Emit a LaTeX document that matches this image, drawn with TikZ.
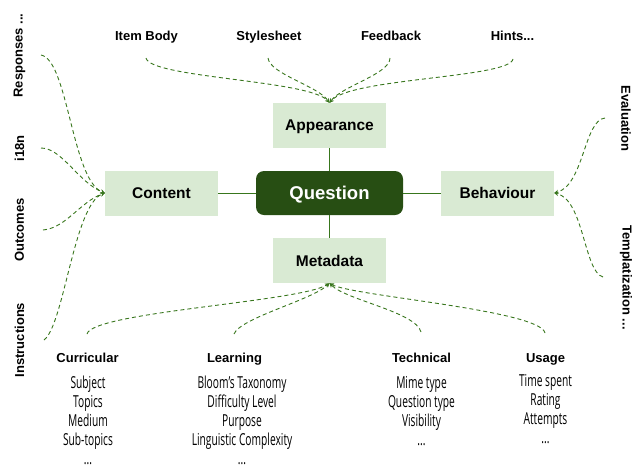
\documentclass[tikz,border=0pt]{standalone}
\usepackage{fontspec}
\setmainfont{Liberation Sans}
\newfontfamily\narrowfont[FakeStretch=0.62]{Open Sans}
\usetikzlibrary{shapes,arrows}
\definecolor{qgreen}{HTML}{274E13}
\definecolor{boxgreen}{HTML}{D9EAD3}
\definecolor{linegreen}{HTML}{38761D}

\begin{document}
\begin{tikzpicture}[x=1pt,y=-1pt]

\tikzstyle{green-b} = [fill=boxgreen, inner sep=0, text depth=0, minimum width=113, minimum height=45,
font=\fontsize{15.5}{18}\selectfont\bfseries]
\tikzstyle{dark-b} = [fill=qgreen, text=white, rounded corners=8, inner sep=0, text depth=0,
minimum width=147, minimum height=44, font=\fontsize{18.5}{22}\selectfont\bfseries]
\tikzstyle{label} = [anchor=base, inner sep=0, font=\fontsize{13}{15}\selectfont\bfseries]
\tikzstyle{items} = [anchor=base, inner sep=0, font=\narrowfont\fontsize{16.5}{19}\selectfont]
\tikzstyle{solidline} = [draw=linegreen, line width=1]
\tikzstyle{dashline} = [draw=linegreen, line width=0.9, dash pattern=on 4pt off 3pt, -stealth]

\useasboundingbox (0,0) rectangle (644,472);

% main boxes
\node [dark-b] (question) at (329.5,193) {Question};
\node [green-b] (appear) at (329.5,125.5) {Appearance};
\node [green-b] (content) at (161.5,193) {Content};
\node [green-b] (behav) at (497.5,193) {Behaviour};
\node [green-b] (meta) at (329.5,260.5) {Metadata};

\draw[solidline] (content) -- (question);
\draw[solidline] (question) -- (behav);
\draw[solidline] (question) -- (appear);
\draw[solidline] (question) -- (meta);

% top labels
\node [label] (itembody) at (146.5,40) {Item Body};
\node [label] (stylesheet) at (269,40) {Stylesheet};
\node [label] (feedback) at (391,40) {Feedback};
\node [label] (hints) at (512.5,40) {Hints...};

\coordinate (ib-s) at (146,58);
\coordinate (ss-s) at (268,58);
\coordinate (fb-s) at (390,58);
\coordinate (hi-s) at (513,59);

\draw[dashline] (ib-s) .. controls (150,78) and (310,80) .. (appear.north);
\draw[dashline] (ss-s) .. controls (270,74) and (318,86) .. (appear.north);
\draw[dashline] (fb-s) .. controls (390,74) and (342,86) .. (appear.north);
\draw[dashline] (hi-s) .. controls (510,78) and (350,78) .. (appear.north);

% left labels
\node [label, anchor=center, rotate=90] (responses) at (19.5,55.5) {Responses ...};
\node [label, anchor=center, rotate=90] (ieighteen) at (19.5,148.5) {i18n};
\node [label, anchor=center, rotate=90] (outcomes) at (19.5,230) {Outcomes};
\node [label, anchor=center, rotate=90] (instructions) at (19.5,340) {Instructions};

\coordinate (re-s) at (41,55);
\coordinate (in-s) at (41,148);
\coordinate (ou-s) at (43,230);
\coordinate (is-s) at (44,340);

\draw[dashline] (re-s) .. controls (68,60) and (72,180) .. (content.west);
\draw[dashline] (in-s) .. controls (62,148) and (78,182) .. (content.west);
\draw[dashline] (ou-s) .. controls (66,228) and (80,202) .. (content.west);
\draw[dashline] (is-s) .. controls (64,325) and (74,205) .. (content.west);

% right labels
\node [label, anchor=center, rotate=-90] (evaluation) at (626,118.5) {Evaluation};
\node [label, anchor=center, rotate=-90] (templ) at (626,277.5) {Templatization ...};

\coordinate (ev-s) at (605,118);
\coordinate (te-s) at (603,277);

\draw[dashline] (ev-s) .. controls (584,120) and (584,185) .. (behav.east);
\draw[dashline] (te-s) .. controls (584,272) and (584,200) .. (behav.east);

% metadata categories
\node [label] (curric) at (87.5,362) {Curricular};
\node [label] (learn) at (234.5,362) {Learning};
\node [label] (techn) at (421.5,362) {Technical};
\node [label] (usage) at (545.5,362) {Usage};

\coordinate (cu-s) at (87,334);
\coordinate (le-s) at (234,334);
\coordinate (te2-s) at (421,332);
\coordinate (us-s) at (545,333);

\draw[dashline] (cu-s) .. controls (92,312) and (300,302) .. (meta.south);
\draw[dashline] (le-s) .. controls (240,318) and (312,300) .. (meta.south);
\draw[dashline] (te2-s) .. controls (416,312) and (346,300) .. (meta.south);
\draw[dashline] (us-s) .. controls (540,310) and (352,296) .. (meta.south);

\node [items] (curric-l) at (88,388) {\begin{tabular}[t]{@{}c@{}} Subject\\ Topics\\ Medium\\ Sub-topics\\ ...\end{tabular}};
\node [items] (learn-l) at (242,388) {\begin{tabular}[t]{@{}c@{}} Bloom’s Taxonomy\\ Difficulty Level\\ Purpose\\ Linguistic Complexity\\ ...\end{tabular}};
\node [items] (techn-l) at (421.5,388) {\begin{tabular}[t]{@{}c@{}} Mime type\\ Question type\\ Visibility\\ ...\end{tabular}};
\node [items] (usage-l) at (545.5,386) {\begin{tabular}[t]{@{}c@{}} Time spent\\ Rating\\ Attempts\\ ...\end{tabular}};

\end{tikzpicture}
\end{document}
